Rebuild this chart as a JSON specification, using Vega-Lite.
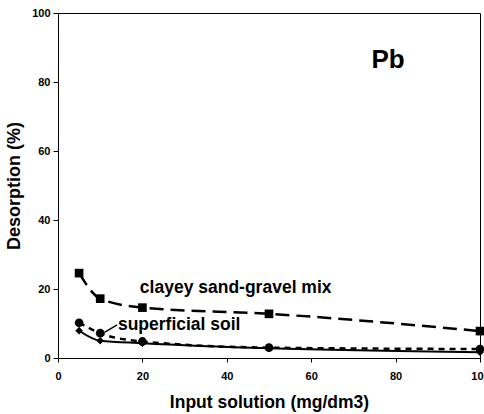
{
  "$schema": "https://vega.github.io/schema/vega-lite/v6.json",
  "width": 422,
  "height": 345,
  "autosize": {"type": "none"},
  "padding": {"left": 58, "top": 13, "right": 4, "bottom": 56},
  "background": "white",
  "config": {
    "font": "Liberation Sans",
    "view": {"stroke": "black", "strokeWidth": 1},
    "axis": {
      "grid": false,
      "domainColor": "black",
      "tickColor": "black",
      "labelColor": "black",
      "titleColor": "black",
      "labelFont": "Liberation Sans",
      "titleFont": "Liberation Sans",
      "labelFontWeight": "bold",
      "titleFontWeight": "bold",
      "labelFontSize": 11,
      "labelFlush": false,
      "labelOverlap": false
    }
  },
  "datasets": {
    "series": [
      {"solution": 5, "desorption": 24.6, "soil": "clayey"},
      {"solution": 10, "desorption": 17.2, "soil": "clayey"},
      {"solution": 20, "desorption": 14.6, "soil": "clayey"},
      {"solution": 50, "desorption": 12.8, "soil": "clayey"},
      {"solution": 100, "desorption": 7.8, "soil": "clayey"},
      {"solution": 5, "desorption": 10.2, "soil": "superficial_a"},
      {"solution": 10, "desorption": 7.2, "soil": "superficial_a"},
      {"solution": 20, "desorption": 4.8, "soil": "superficial_a"},
      {"solution": 50, "desorption": 3.0, "soil": "superficial_a"},
      {"solution": 100, "desorption": 2.6, "soil": "superficial_a"},
      {"solution": 5, "desorption": 7.9, "soil": "superficial_b"},
      {"solution": 10, "desorption": 5.0, "soil": "superficial_b"},
      {"solution": 20, "desorption": 4.3, "soil": "superficial_b"},
      {"solution": 50, "desorption": 2.8, "soil": "superficial_b"},
      {"solution": 100, "desorption": 1.7, "soil": "superficial_b"}
    ],
    "notes": [
      {"solution": 19.4, "desorption": 20.4, "text": "clayey sand-gravel mix"},
      {"solution": 14.2, "desorption": 9.5, "text": "superficial soil"}
    ],
    "element": [
      {"solution": 78.2, "desorption": 86.4, "text": "Pb"}
    ],
    "leader": [
      {"x1": 14.0, "y1": 9.6, "x2": 11.0, "y2": 7.4}
    ]
  },
  "layer": [
    {
      "data": {"name": "series"},
      "transform": [{"filter": "datum.soil === 'clayey'"}],
      "mark": {"type": "line", "color": "black", "strokeWidth": 2.5, "strokeDash": [14, 7], "interpolate": "monotone"},
      "encoding": {
        "x": {"field": "solution", "type": "quantitative", "scale": {"domain": [0, 100], "nice": false},
          "axis": {"title": "Input solution (mg/dm3)", "titleFontSize": 17.5, "titlePadding": 12, "values": [0, 20, 40, 60, 80, 100], "tickSize": 4, "labelPadding": 8}},
        "y": {"field": "desorption", "type": "quantitative", "scale": {"domain": [0, 100], "nice": false},
          "axis": {"title": "Desorption  (%)", "titleFontSize": 18, "titlePadding": 8, "values": [0, 20, 40, 60, 80, 100], "tickSize": 5, "labelPadding": 3}}
      }
    },
    {
      "data": {"name": "series"},
      "transform": [{"filter": "datum.soil === 'superficial_a'"}],
      "mark": {"type": "line", "color": "black", "strokeWidth": 2.5, "strokeDash": [6, 5], "interpolate": "monotone"},
      "encoding": {
        "x": {"field": "solution", "type": "quantitative"},
        "y": {"field": "desorption", "type": "quantitative"}
      }
    },
    {
      "data": {"name": "series"},
      "transform": [{"filter": "datum.soil === 'superficial_b'"}],
      "mark": {"type": "line", "color": "black", "strokeWidth": 2, "interpolate": "monotone"},
      "encoding": {
        "x": {"field": "solution", "type": "quantitative"},
        "y": {"field": "desorption", "type": "quantitative"}
      }
    },
    {
      "data": {"name": "series"},
      "transform": [{"filter": "datum.soil === 'clayey'"}],
      "mark": {"type": "point", "shape": "square", "filled": true, "color": "black", "size": 75, "opacity": 1},
      "encoding": {
        "x": {"field": "solution", "type": "quantitative"},
        "y": {"field": "desorption", "type": "quantitative"}
      }
    },
    {
      "data": {"name": "series"},
      "transform": [{"filter": "datum.soil === 'superficial_a'"}],
      "mark": {"type": "point", "shape": "circle", "filled": true, "color": "black", "size": 75, "opacity": 1},
      "encoding": {
        "x": {"field": "solution", "type": "quantitative"},
        "y": {"field": "desorption", "type": "quantitative"}
      }
    },
    {
      "data": {"name": "series"},
      "transform": [{"filter": "datum.soil === 'superficial_b'"}],
      "mark": {"type": "point", "shape": "diamond", "filled": true, "color": "black", "size": 60, "opacity": 1},
      "encoding": {
        "x": {"field": "solution", "type": "quantitative"},
        "y": {"field": "desorption", "type": "quantitative"}
      }
    },
    {
      "data": {"name": "leader"},
      "mark": {"type": "rule", "color": "black", "strokeWidth": 1.5},
      "encoding": {
        "x": {"field": "x1", "type": "quantitative"},
        "y": {"field": "y1", "type": "quantitative"},
        "x2": {"field": "x2"},
        "y2": {"field": "y2"}
      }
    },
    {
      "data": {"name": "notes"},
      "mark": {"type": "text", "fontWeight": "bold", "color": "black", "baseline": "middle", "align": "left", "fontSize": 17.5, "font": "Liberation Sans"},
      "encoding": {
        "x": {"field": "solution", "type": "quantitative"},
        "y": {"field": "desorption", "type": "quantitative"},
        "text": {"field": "text"}
      }
    },
    {
      "data": {"name": "element"},
      "mark": {"type": "text", "fontWeight": "bold", "color": "black", "baseline": "middle", "align": "center", "fontSize": 26, "font": "Liberation Sans"},
      "encoding": {
        "x": {"field": "solution", "type": "quantitative"},
        "y": {"field": "desorption", "type": "quantitative"},
        "text": {"field": "text"}
      }
    }
  ]
}
